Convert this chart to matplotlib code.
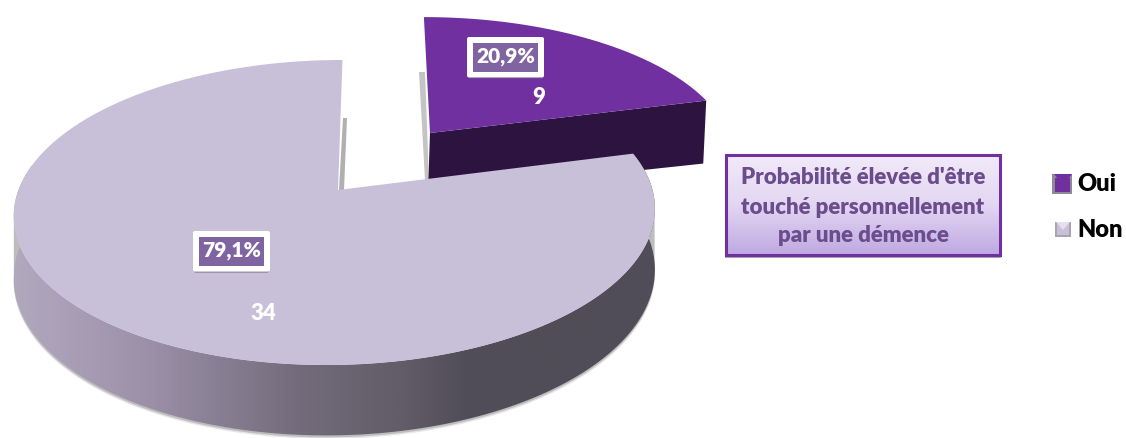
import numpy as np
import matplotlib
matplotlib.use('Agg')
import matplotlib.pyplot as plt
from matplotlib.patches import Polygon, FancyBboxPatch, Rectangle
from matplotlib.colors import LinearSegmentedColormap

# data
categories = ['Oui', 'Non']
counts = [9, 34]
percent_labels = ['20,9%', '79,1%']
box_title = ["Probabilité élevée d'être", 'touché personnellement', 'par une démence']

plt.rcParams['font.family'] = ['Lato', 'DejaVu Sans']

W, H = 1126, 438
PURPLE = '#7030A0'
PURPLE_DARK = '#2D1340'
LILAC = '#C8BFD9'

fig = plt.figure(figsize=(W / 100, H / 100), dpi=100)
ax = fig.add_axes([0, 0, 1, 1])
ax.set_xlim(0, W)
ax.set_ylim(H, 0)
ax.axis('off')


def rim(angles, tip, a, b, shear, depth=0.0, k=0.1475):
    # perspective view of a circle, angles clockwise from top in degrees
    t = np.radians(angles)
    u, v = np.sin(t), np.cos(t)
    w = 1 + k * v
    x = tip[0] + (a * u + shear * v) / w
    y = tip[1] + (-b * v + depth) / w
    return np.column_stack([x, y])


sweep = 360 * counts[0] / sum(counts)

# Oui slice, goes first because Non covers its lower edge
p_tip = (430, 133)
p_a, p_b, p_shear = 298, 133, -7
p_arc = rim(np.linspace(0, sweep, 80), p_tip, p_a, p_b, p_shear)
corner = p_arc[-1]
ax.add_patch(Polygon([(p_tip[0] - 11, 72), (p_tip[0] - 5, 72), (p_tip[0] - 1, 180), (p_tip[0] - 5, 180)],
                     fc='#c4c4c4', ec='none', zorder=1))
ax.add_patch(Polygon([p_tip, corner, (corner[0] - 3, corner[1] + 63), (p_tip[0] - 2, p_tip[1] + 60)],
                     fc=PURPLE_DARK, ec='none', zorder=2))
ax.add_patch(Polygon(np.vstack([[p_tip], p_arc]), fc=PURPLE, ec='none', zorder=3))

# Non slice
n_center = (335.5, 190)
n_tip = (338, 190)
n_a, n_b, n_shear = 317, 149.2, 8
n_angles = np.linspace(sweep, 360, 300)
n_arc = rim(n_angles, n_center, n_a, n_b, n_shear)

# side wall only where it can be seen from the front
wall_angles = np.linspace(sweep, 280, 240)
wall_top = rim(wall_angles, n_center, n_a, n_b, n_shear)
wall_low = rim(wall_angles, n_center, n_a, n_b, n_shear, depth=60)

# shadow, a bit narrower than the wall so it stays hidden at the ends
shade_angles = np.linspace(100, 262, 200)
shade_top = rim(shade_angles, n_center, n_a, n_b, n_shear)
shade_low = rim(shade_angles, n_center, n_a, n_b, n_shear, depth=60)
for off, col in [(3.5, '#e6e6e6'), (2, '#bdbdbd')]:
    ax.add_patch(Polygon(np.vstack([shade_top, shade_low[::-1] + [0, off]]),
                         fc=col, ec='none', zorder=3.5))
ax.add_patch(Polygon([(343, 118), (347, 118), (344, 190), (339, 190)], fc='#b0b0b0', ec='none', zorder=3.5))

side = Polygon(np.vstack([wall_top, wall_low[::-1]]), fc='none', ec='none', zorder=4)
ax.add_patch(side)
side_cmap = LinearSegmentedColormap.from_list(
    'side', [(0, '#B2A8BE'), (0.21, '#9B90A8'), (0.44, '#746C7C'),
             (0.6, '#625D69'), (0.71, '#514D58'), (1, '#514D58')])
img = ax.imshow(np.linspace(0, 1, 400).reshape(1, -1), cmap=side_cmap, aspect='auto',
                extent=(14, 656, H, 0), zorder=4)
img.set_clip_path(side)
ax.set_xlim(0, W)
ax.set_ylim(H, 0)

ax.add_patch(Polygon(np.vstack([[n_tip], n_arc]), fc=LILAC, ec='none', zorder=5))

# percent tags and counts
tag_pos = [(505.5, 57.5), (231.5, 251.5)]
count_pos = [(539, 98), (263, 313)]
for label, n, (tx, ty), (cx, cy) in zip(percent_labels, counts, tag_pos, count_pos):
    ax.add_patch(FancyBboxPatch((tx - 37.5, ty - 17.5), 75, 39, boxstyle='round,pad=0,rounding_size=2',
                                fc='#6d5a80', ec='none', alpha=0.45, zorder=6))
    ax.add_patch(FancyBboxPatch((tx - 38.5, ty - 20.5), 77, 40.5, boxstyle='round,pad=0,rounding_size=2',
                                fc='white', ec='none', zorder=7))
    ax.add_patch(Rectangle((tx - 32.5, ty - 14.5), 65, 28.5, fc='#8064A2', ec='none', zorder=8))
    ax.text(tx, ty - 0.5, label, color='white', fontsize=15, fontweight='heavy',
            ha='center', va='center', zorder=9)
    ax.text(cx, cy, str(n), color='white', fontsize=16, fontweight='heavy',
            ha='center', va='center', zorder=9)

# title box
bx0, by0, bx1, by1 = 726, 155, 1000, 255
ax.add_patch(Rectangle((bx0 - 1, by0 + 3), bx1 - bx0 + 2, by1 - by0, fc='#a9a3b0', ec='none', zorder=1))
box_cmap = LinearSegmentedColormap.from_list('box', ['#F1EAF9', '#E3D6F2', '#BFA9E2'])
ax.imshow(np.linspace(0, 1, 100).reshape(-1, 1), cmap=box_cmap, aspect='auto',
          extent=(bx0, bx1, by1, by0), zorder=2)
ax.add_patch(Rectangle((bx0, by0), bx1 - bx0, by1 - by0, fc='none', ec=PURPLE, lw=2.2, zorder=3))
ax.set_xlim(0, W)
ax.set_ylim(H, 0)
for line, y in zip(box_title, [178, 208, 236]):
    ax.text((bx0 + bx1) / 2, y, line, color='#6B4C8C', fontsize=16, fontweight='heavy',
            ha='center', va='center', zorder=4)

# legend
ax.add_patch(Rectangle((1052, 174), 20, 20, fc='#8f8a98', ec='none'))
ax.add_patch(Polygon([(1054, 174), (1072, 174), (1063, 186)], fc=PURPLE, ec='none'))
ax.add_patch(Rectangle((1055, 178), 15, 14, fc=PURPLE, ec='none'))
ax.add_patch(Rectangle((1055, 222), 16, 15, fc='#a9a3b5', ec='none'))
ax.add_patch(Rectangle((1057, 224), 12, 11, fc=LILAC, ec='none'))
ax.add_patch(Polygon([(1056, 222), (1070, 222), (1063, 230)], fc='#e4e0ec', ec='none'))
for name, y in zip(categories, [184, 230]):
    ax.text(1077, y, name, color='black', fontsize=17, fontweight='heavy', ha='left', va='center')

fig.savefig('out.png', dpi=100)
